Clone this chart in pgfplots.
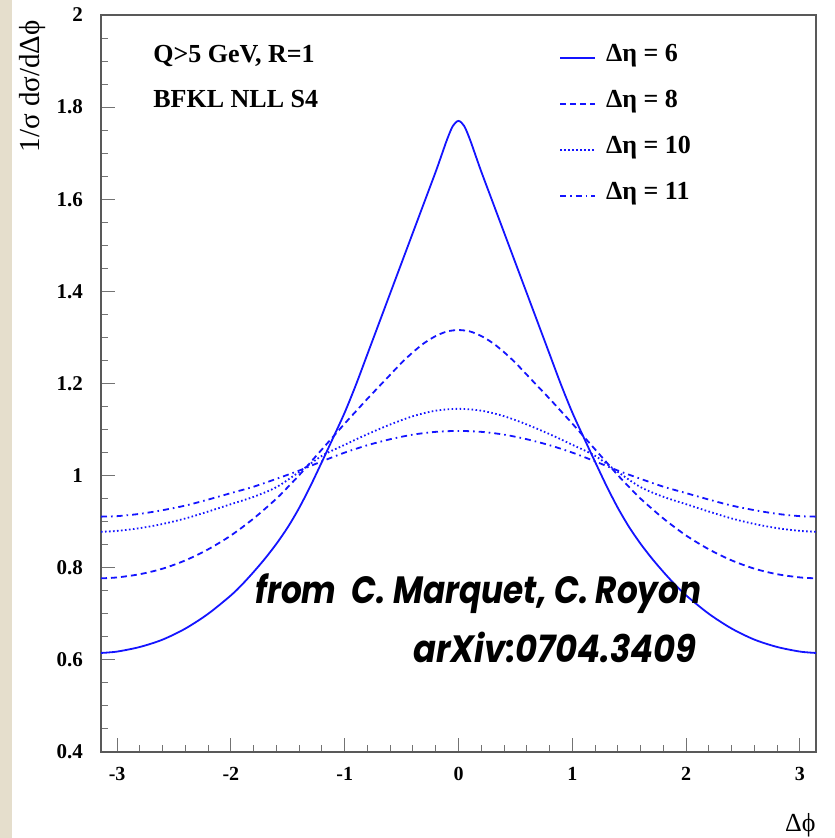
\documentclass[border=0pt]{standalone}
\usepackage{pgfplots}
\pgfplotsset{compat=1.18}
\usepackage{fontspec}
\setmainfont{Liberation Serif}
\newfontfamily\futura{Poppins}
\definecolor{beige}{RGB}{229,222,204}
\definecolor{lblue}{RGB}{20,20,255}
\begin{document}
\begin{tikzpicture}[x=1pt,y=1pt]
\fill[beige] (0,0) rectangle (6,419);
\begin{axis}[
  at={(50.5pt,43pt)}, anchor=south west,
  scale only axis, width=357.5pt, height=368.5pt,
  xmin=-3.14159, xmax=3.14159, ymin=0.4, ymax=2,
  axis line style={black!65, line width=0.6pt},
  tick style={black!55, line width=0.5pt},
  tick align=inside, tick pos=left,
  major tick length=6.75pt, minor tick length=3.4pt,
  xtick={-3,-2,-1,0,1,2,3},
  xticklabels={-3,-2,-1,0,1,2,3},
  minor x tick num=4,
  ytick={0.4,0.6,0.8,1,1.2,1.4,1.6,1.8,2},
  yticklabels={0.4,0.6,0.8,1,1.2,1.4,1.6,1.8,2},
  minor y tick num=3,
  xticklabel style={font=\fontsize{10}{12}\selectfont\bfseries, yshift=-4pt},
  yticklabel style={font=\fontsize{10.5}{12}\selectfont\bfseries, xshift=-5.5pt},
  legend style={at={(0.632,0.967)}, anchor=north west, draw=none, fill=none,
    font=\fontsize{13}{15}\selectfont\bfseries, row sep=11pt,
    nodes={inner sep=0pt, text height=9pt, text depth=3pt},
    /tikz/every odd column/.append style={column sep=5pt}},
  legend cell align=left,
  legend image code/.code={\draw[#1] (0pt,-1pt) -- (17.5pt,-1pt);},
  every axis plot/.append style={lblue, line width=0.9pt, smooth, tension=0.5},
]
\addplot[solid] coordinates {
(-3.1416,0.615)(-3.0,0.618)(-2.8,0.628)(-2.6,0.644)(-2.4,0.668)(-2.2,0.700)(-2.0,0.740)(-1.9,0.764)(-1.8,0.791)(-1.7,0.820)(-1.6,0.852)(-1.5,0.888)(-1.4,0.930)(-1.3,0.978)(-1.2,1.030)(-1.1,1.083)(-1.0,1.137)(-0.9,1.198)(-0.8,1.264)(-0.7,1.330)(-0.6,1.396)(-0.5,1.462)(-0.4,1.528)(-0.3,1.594)(-0.2,1.660)(-0.15,1.695)(-0.1,1.730)(-0.05,1.759)
(0,1.770)
(0.05,1.759)(0.1,1.730)(0.15,1.695)(0.2,1.660)(0.3,1.594)(0.4,1.528)(0.5,1.462)(0.6,1.396)(0.7,1.330)(0.8,1.264)(0.9,1.198)(1.0,1.137)(1.1,1.083)(1.2,1.030)(1.3,0.978)(1.4,0.930)(1.5,0.888)(1.6,0.852)(1.7,0.820)(1.8,0.791)(1.9,0.764)(2.0,0.740)(2.2,0.700)(2.4,0.668)(2.6,0.644)(2.8,0.628)(3.0,0.618)(3.1416,0.615)
};
\addlegendentry{Δη = 6}
\addplot[dash pattern=on 3pt off 2pt] coordinates {
(-3.1416,0.777)(-3.0,0.779)(-2.8,0.786)(-2.6,0.798)(-2.4,0.816)(-2.2,0.840)(-2.0,0.870)(-1.8,0.907)(-1.6,0.950)(-1.5,0.975)(-1.4,1.001)(-1.3,1.029)(-1.2,1.057)(-1.1,1.085)(-1.0,1.113)(-0.9,1.140)(-0.8,1.167)(-0.7,1.193)(-0.6,1.219)(-0.5,1.245)(-0.4,1.268)(-0.3,1.288)(-0.2,1.303)(-0.1,1.313)
(0,1.316)
(0.1,1.313)(0.2,1.303)(0.3,1.288)(0.4,1.268)(0.5,1.245)(0.6,1.219)(0.7,1.193)(0.8,1.167)(0.9,1.140)(1.0,1.113)(1.1,1.085)(1.2,1.057)(1.3,1.029)(1.4,1.001)(1.5,0.975)(1.6,0.950)(1.8,0.907)(2.0,0.870)(2.2,0.840)(2.4,0.816)(2.6,0.798)(2.8,0.786)(3.0,0.779)(3.1416,0.777)
};
\addlegendentry{Δη = 8}
\addplot[dash pattern=on 0.8pt off 1.2pt] coordinates {
(-3.1416,0.878)(-3.0,0.880)(-2.8,0.886)(-2.6,0.895)(-2.4,0.907)(-2.2,0.922)(-2.0,0.938)(-1.8,0.954)(-1.6,0.975)(-1.4,1.008)(-1.2,1.043)(-1.0,1.067)(-0.8,1.090)(-0.6,1.111)(-0.4,1.129)(-0.2,1.141)
(0,1.145)
(0.2,1.141)(0.4,1.129)(0.6,1.111)(0.8,1.090)(1.0,1.067)(1.2,1.043)(1.4,1.008)(1.6,0.975)(1.8,0.954)(2.0,0.938)(2.2,0.922)(2.4,0.907)(2.6,0.895)(2.8,0.886)(3.0,0.880)(3.1416,0.878)
};
\addlegendentry{Δη = 10}
\addplot[dash pattern=on 3pt off 2pt on 0.8pt off 2pt] coordinates {
(-3.1416,0.911)(-3.0,0.912)(-2.8,0.917)(-2.6,0.925)(-2.4,0.935)(-2.2,0.948)(-2.0,0.962)(-1.8,0.976)(-1.6,0.993)(-1.4,1.011)(-1.2,1.031)(-1.0,1.050)(-0.8,1.066)(-0.6,1.079)(-0.4,1.089)(-0.2,1.095)
(0,1.097)
(0.2,1.095)(0.4,1.089)(0.6,1.079)(0.8,1.066)(1.0,1.050)(1.2,1.031)(1.4,1.011)(1.6,0.993)(1.8,0.976)(2.0,0.962)(2.2,0.948)(2.4,0.935)(2.6,0.925)(2.8,0.917)(3.0,0.912)(3.1416,0.911)
};
\addlegendentry{Δη = 11}
\end{axis}
\node[anchor=base west, font=\fontsize{13}{15}\selectfont\bfseries, inner sep=0pt] at (76.5,387.5) {Q>5 GeV, R=1};
\node[anchor=base west, font=\fontsize{13}{15}\selectfont\bfseries, inner sep=0pt] at (76.5,365) {BFKL NLL S4};
\node[anchor=base west, xscale=0.86, font=\fontsize{19}{23}\selectfont\futura\bfseries\itshape, inner sep=0pt] at (127.5,117) {from\ \ C. Marquet, C. Royon};
\node[anchor=base west, xscale=0.89, font=\fontsize{19}{23}\selectfont\futura\bfseries\itshape, inner sep=0pt] at (206.5,87.5) {arXiv:0704.3409};
\node[anchor=base east, rotate=90, font=\fontsize{14.5}{16}\selectfont, inner sep=0pt] at (19.5,409) {1/σ dσ/dΔϕ};
\node[anchor=base east, font=\fontsize{13}{15}\selectfont, inner sep=0pt] at (408,3) {Δϕ};
\pgfresetboundingbox
\useasboundingbox (0,0) rectangle (417,419);
\end{tikzpicture}
\end{document}
